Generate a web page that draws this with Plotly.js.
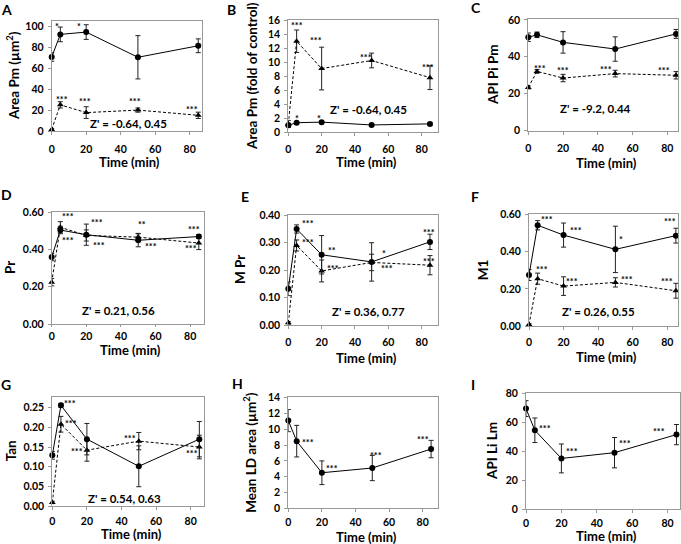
<!DOCTYPE html>
<html><head><meta charset="utf-8">
<script src="https://cdn.plot.ly/plotly-3.0.1.min.js"></script>
<style>html,body{margin:0;padding:0;background:#fff}#chart{width:681px;height:544px}</style>
</head><body><div id="chart"></div>
<script>
// ---- data ----
const times = [0, 5, 20, 50, 85];
const xTickVals = [0, 20, 40, 60, 80];

const areaPmCirc = [70.7, 92.4, 94.6, 70.5, 81.5];
const areaPmCircErr = [4, 7, 7, 20.7, 6.6];
const areaPmTri = [1.5, 25, 17.6, 20, 15];
const areaPmTriErr = [1, 3, 5.6, 2, 3];

const foldCirc = [1.0, 1.37, 1.45, 1.05, 1.2];
const foldCircErr = [0.3, 0.15, 0.15, 0.2, 0.15];
const foldTri = [1.2, 13.0, 9.1, 10.25, 7.8];
const foldTriErr = [0.5, 1.6, 3.05, 1.05, 1.7];

const apiPiCirc = [50.6, 51.9, 47.8, 44.2, 52.4];
const apiPiCircErr = [2.3, 1.5, 5.8, 6.6, 2.4];
const apiPiTri = [23.4, 32.1, 28.5, 30.9, 30];
const apiPiTriErr = [0.8, 1, 2, 1.8, 2];

const prCirc = [0.36, 0.505, 0.48, 0.45, 0.47];
const prCircErr = [0.02, 0.02, 0.057, 0.035, 0.01];
const prTri = [0.225, 0.52, 0.476, 0.467, 0.435];
const prTriErr = [0.02, 0.03, 0.03, 0.02, 0.035];

const mprCirc = [0.132, 0.35, 0.256, 0.23, 0.303];
const mprCircErr = [0.025, 0.015, 0.07, 0.07, 0.028];
const mprTri = [0.008, 0.29, 0.197, 0.228, 0.218];
const mprTriErr = [0.005, 0.02, 0.04, 0.03, 0.035];

const m1Circ = [0.275, 0.543, 0.49, 0.413, 0.487];
const m1CircErr = [0.03, 0.025, 0.065, 0.125, 0.04];
const m1Tri = [0.008, 0.255, 0.215, 0.235, 0.19];
const m1TriErr = [0.005, 0.03, 0.05, 0.025, 0.04];

const tanCirc = [0.129, 0.256, 0.17, 0.101, 0.17];
const tanCircErr = [0.01, 0.005, 0.04, 0.052, 0.045];
const tanTri = [0.009, 0.208, 0.142, 0.165, 0.15];
const tanTriErr = [0.003, 0.02, 0.028, 0.022, 0.03];

const ldAreaCirc = [11.1, 8.5, 4.5, 5.1, 7.5];
const ldAreaCircErr = [1.4, 2.0, 1.5, 1.6, 1.1];

const apiLiCirc = [69.5, 54.5, 35, 39, 51.5];
const apiLiCircErr = [5.5, 8.5, 10, 10.5, 7];

const panelLetters = ['A','B','C','D','E','F','G','H','I'];
const yTitles = ['Area Pm (µm<sup>2</sup>)', 'Area Pm (fold of control)', 'API Pi Pm', 'Pr', 'M Pr', 'M1', 'Tan', 'Mean LD area (µm<sup>2</sup>)', 'API Li Lm'];
const zLabels = ["Z' = -0.64, 0.45", "Z' = -0.64, 0.45", "Z' = -9.2, 0.44", "Z' = 0.21, 0.56", "Z' = 0.36, 0.77", "Z' = 0.26, 0.55", "Z' = 0.54, 0.63", null, null];
const zPos = [[44.7, 6.7], [48.2, 3.2], [38.8, 12], [38.5, 0.07], [48, 0.048], [40.5, 0.08], [42, 0.018], null, null];

const starsA = [['*', 3.3, 101.6], ['*', 15.8, 101.6], ['***', 5.8, 32.3], ['***', 19.3, 29.7], ['***', 48.2, 29.7], ['***', 81.3, 22.7]];
const starsB = [['***', 5, 15.5], ['***', 16.9, 13.4], ['***', 46.8, 11.0], ['***', 84, 9.5], ['*', 5, 2.2], ['*', 18.5, 2.2]];
const starsC = [['***', 6.7, 34.8], ['***', 19.8, 33.6], ['***', 44.5, 34.3], ['***', 78, 33.6]];
const starsD = [['***', 9.6, 0.587], ['***', 9.7, 0.46], ['***', 26, 0.557], ['***', 27.5, 0.435], ['**', 52, 0.546], ['***', 57.4, 0.426], ['***', 82.5, 0.521], ['***', 80.3, 0.417]];
const starsE = [['***', 12, 0.376], ['***', 12, 0.308], ['**', 26.4, 0.28], ['***', 26.6, 0.215], ['*', 57.6, 0.269], ['***', 59, 0.215], ['***', 84.4, 0.346], ['***', 84.4, 0.24]];
const starsF = [['***', 10.2, 0.584], ['***', 27, 0.525], ['*', 53, 0.476], ['***', 81.5, 0.573], ['***', 7.3, 0.315], ['***', 25, 0.253], ['***', 56.5, 0.26], ['***', 80, 0.253]];
const starsG = [['***', 10.2, 0.267], ['***', 10.6, 0.216], ['***', 14.5, 0.144], ['***', 45, 0.178], ['***', 81, 0.138]];
const starsH = [['***', 11.5, 8.6], ['***', 26, 5.3], ['***', 52, 6.9], ['***', 80, 8.9]];
const starsI = [['***', 11, 57], ['***', 26, 41], ['***', 56, 47], ['***', 75, 55]];

// ---- layout config (pixels) ----
const W = 681, H = 544;
const FONT = 'Lato, "Open Sans", sans-serif';
const panels = [
  {circ: areaPmCirc, circErr: areaPmCircErr, tri: areaPmTri, triErr: areaPmTriErr, yr: [0, 105], dt: 20, fmt: 'd', xr: [0, 87], box: [51.7, 201.7, 21.2, 131], letter: [6, 9], yT: 13, xT: 162, xs: 5, tl: 3, stars: starsA},
  {circ: foldCirc, circErr: foldCircErr, tri: foldTri, triErr: foldTriErr, yr: [0, 16.1], dt: 2, fmt: 'd', xr: [0, 90], box: [288.3, 438.3, 19.5, 132.3], letter: [231, 9], yT: 252, xT: 162, xs: 4, tl: 3, stars: starsB},
  {circ: apiPiCirc, circErr: apiPiCircErr, tri: apiPiTri, triErr: apiPiTriErr, yr: [0, 60.3], dt: 20, fmt: 'd', xr: [0, 86.3], box: [528.3, 678.3, 19.3, 130.7], letter: [476, 8], yT: 493, xT: 163, xs: 5, tl: 3, stars: starsC},
  {circ: prCirc, circErr: prCircErr, tri: prTri, triErr: prTriErr, yr: [0, 0.602], dt: 0.2, fmt: '.2f', xr: [0, 88], box: [51.7, 204, 212, 324], letter: [6, 195], yT: 10, xT: 350, xs: 0, tl: 2, stars: starsD},
  {circ: mprCirc, circErr: mprCircErr, tri: mprTri, triErr: mprTriErr, yr: [0, 0.401], dt: 0.1, fmt: '.2f', xr: [0, 90], box: [288.3, 438.3, 215, 325], letter: [245, 196], yT: 240, xT: 358, xs: 4, tl: 3, stars: starsE},
  {circ: m1Circ, circErr: m1CircErr, tri: m1Tri, triErr: m1TriErr, yr: [0, 0.602], dt: 0.2, fmt: '.2f', xr: [0, 86.4], box: [529, 678.3, 214.3, 326], letter: [475, 196], yT: 483, xT: 357, xs: 3, tl: 3, stars: starsF},
  {circ: tanCirc, circErr: tanCircErr, tri: tanTri, triErr: tanTriErr, yr: [0, 0.278], dt: 0.05, fmt: '.2f', xr: [0, 87.7], box: [52.3, 204, 396.7, 506], letter: [6, 384], yT: 11, xT: 533.5, xs: 2, tl: 3, stars: starsG},
  {circ: ldAreaCirc, circErr: ldAreaCircErr, tri: null, triErr: null, yr: [0, 14.05], dt: 2, fmt: 'd', xr: [0, 89.3], box: [288.3, 438.3, 397.3, 508.3], letter: [237, 383], yT: 250, xT: 537, xs: 1, tl: 3, stars: starsH},
  {circ: apiLiCirc, circErr: apiLiCircErr, tri: null, triErr: null, yr: [0, 80.3], dt: 20, fmt: 'd', xr: [0, 87], box: [526, 680, 393, 509], letter: [473, 384], yT: 492, xT: 535.5, xs: 1, tl: 3, stars: starsI}
];

const px = x => x / W;
const py = y => 1 - y / H;

const traces = [];
const layout = {
  width: W, height: H,
  margin: {l: 0, r: 0, t: 0, b: 0},
  paper_bgcolor: '#fff', plot_bgcolor: '#fff',
  showlegend: false,
  font: {family: FONT, color: '#000'},
  annotations: []
};

panels.forEach((p, i) => {
  const k = i + 1;
  const xa = 'x' + (k === 1 ? '' : k), ya = 'y' + (k === 1 ? '' : k);
  const xaKey = 'xaxis' + (k === 1 ? '' : k), yaKey = 'yaxis' + (k === 1 ? '' : k);
  if (p.tri) {
    traces.push({
      x: times, y: p.tri, xaxis: xa, yaxis: ya, type: 'scatter', mode: 'lines+markers',
      line: {color: '#000', width: 1, dash: '3px,2px'},
      marker: {symbol: 'triangle-up', size: 6, color: '#000'},
      error_y: {type: 'data', array: p.triErr, color: '#222', thickness: 1, width: 2.5},
      cliponaxis: false
    });
  }
  traces.push({
    x: times, y: p.circ, xaxis: xa, yaxis: ya, type: 'scatter', mode: 'lines+markers',
    line: {color: '#000', width: 1},
    marker: {symbol: 'circle', size: 6, color: '#000'},
    error_y: {type: 'data', array: p.circErr, color: '#222', thickness: 1, width: 2.5},
    cliponaxis: false
  });
  const [x0, x1, yt, yb] = p.box;
  layout[xaKey] = {
    domain: [px(x0), px(x1)], range: p.xr, anchor: ya,
    tickvals: xTickVals, ticks: 'outside', ticklen: p.tl, tickcolor: '#999',
    showline: true, mirror: true, linecolor: '#999', linewidth: 1,
    showgrid: false, zeroline: false, ticklabelstandoff: p.xs,
    tickfont: {size: 10.5, weight: 'bold', family: FONT, color: '#000'}
  };
  layout[yaKey] = {
    domain: [py(yb), py(yt)], range: p.yr, anchor: xa,
    dtick: p.dt, tick0: 0, tickformat: p.fmt, ticks: 'outside', ticklen: 3, tickcolor: '#999',
    showline: true, mirror: true, linecolor: '#999', linewidth: 1,
    showgrid: false, zeroline: false, ticklabelstandoff: 2,
    tickfont: {size: 10.5, weight: 'bold', family: FONT, color: '#000'}
  };
  // panel letter
  layout.annotations.push({
    xref: 'paper', yref: 'paper', x: px(p.letter[0]), y: py(p.letter[1]),
    xanchor: 'center', yanchor: 'middle', showarrow: false,
    text: '<b>' + panelLetters[i] + '</b>', font: {size: 14, family: FONT, color: '#000'}
  });
  // y title
  layout.annotations.push({
    xref: 'paper', yref: 'paper', x: px(p.yT), y: py((yt + yb) / 2),
    xanchor: 'center', yanchor: 'middle', showarrow: false, textangle: -90,
    text: '<b>' + yTitles[i] + '</b>', font: {size: 13.5, family: FONT, color: '#000'}
  });
  // x title
  layout.annotations.push({
    xref: 'paper', yref: 'paper', x: px((x0 + x1) / 2 + 3), y: py(p.xT),
    xanchor: 'center', yanchor: 'middle', showarrow: false,
    text: '<b>Time (min)</b>', font: {size: 13, family: FONT, color: '#000'}
  });
  // stars
  p.stars.forEach(s => {
    layout.annotations.push({
      xref: xa, yref: ya, x: s[1], y: s[2], xanchor: 'center', yanchor: 'middle',
      showarrow: false, yshift: -2, text: '<b>' + s[0] + '</b>',
      font: {size: 9, family: FONT, color: '#000'}
    });
  });
  // Z' label
  if (zLabels[i]) {
    layout.annotations.push({
      xref: xa, yref: ya, x: zPos[i][0], y: zPos[i][1], xanchor: 'center', yanchor: 'middle',
      showarrow: false, text: '<b>' + zLabels[i] + '</b>',
      font: {size: 11.5, family: FONT, color: '#000'}
    });
  }
});

Plotly.newPlot('chart', traces, layout, {displayModeBar: false, staticPlot: true});
</script>
</body></html>
